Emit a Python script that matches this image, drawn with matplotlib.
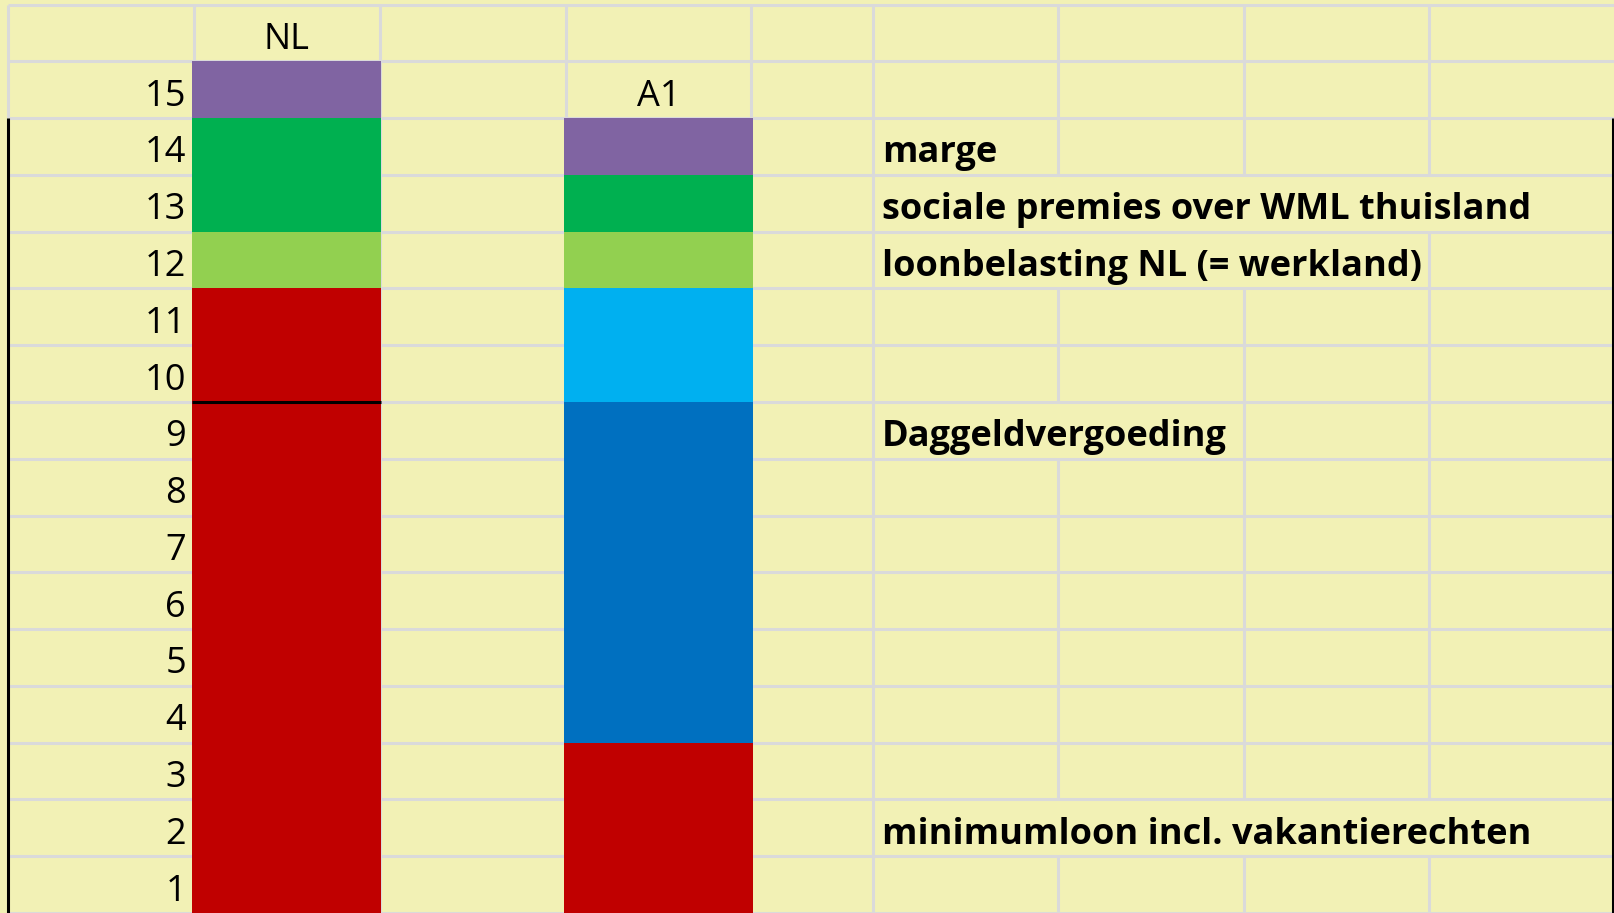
import numpy as np
import matplotlib.pyplot as plt

plt.rcParams['font.family'] = ['Open Sans', 'DejaVu Sans']

# stacked parts per column (units = rows of the sheet)
categories = ['NL', 'A1']
minimumloon = [9, 3]
rest_loon = [2, 0]        # red part above the black line (NL only)
daggeld = [0, 6]
daggeld_extra = [0, 2]
loonbelasting = [1, 1]
premies = [2, 1]
marge = [1, 1]

segments = [minimumloon, rest_loon, daggeld, daggeld_extra, loonbelasting, premies, marge]
seg_colors = ['#C00000', '#C00000', '#0070C0', '#00B0F0', '#92D050', '#00B050', '#8064A2']

row_numbers = list(range(1, 16))
labels = ['marge', 'sociale premies over WML thuisland',
          'loonbelasting NL (= werkland)', 'Daggeldvergoeding',
          'minimumloon incl. vakantierechten']
label_rows = [14, 13, 12, 9, 2]

bg = '#F2F1B5'
grid_c = '#DADADA'

# sheet layout (pixels)
col_edges = [8, 194, 380, 566, 751, 873, 1058, 1244, 1429, 1615]
bar_cols = [1, 3]
bar_w = 189
label_x = 882
base_off = 0.22

fig = plt.figure(figsize=(16.15, 9.13), dpi=100)
fig.patch.set_facecolor(bg)
ax = fig.add_axes([0, 0, 1, 1])
ax.set_xlim(0, 1615)
ax.set_ylim(0, 16.08)
ax.axis('off')

xs = np.array([(col_edges[c] + col_edges[c + 1]) / 2 for c in bar_cols])

# bars
bottom = np.zeros(len(categories))
for seg, c in zip(segments, seg_colors):
    vals = np.array(seg, dtype=float)
    ax.bar(xs, vals, width=bar_w, bottom=bottom, color=c, linewidth=0, zorder=3)
    bottom += vals
totals = bottom

# black divider inside the red part
for i in range(len(categories)):
    if rest_loon[i] > 0:
        ax.hlines(minimumloon[i], xs[i] - bar_w / 2, xs[i] + bar_w / 2,
                  color='black', lw=2.2, zorder=4)

# column headers above each bar
for x, name, tot in zip(xs, categories, totals):
    ax.text(x, tot + base_off, name, ha='center', va='baseline', fontsize=26, zorder=5)

# row numbers
for n in row_numbers:
    ax.text(186, n - 1 + base_off, str(n), ha='right', va='baseline', fontsize=26, zorder=5)

# labels
label_texts = []
for lab, r in zip(labels, label_rows):
    t = ax.text(label_x, r - 1 + base_off, lab, ha='left', va='baseline',
                fontsize=26, fontweight='bold', zorder=5)
    label_texts.append(t)

# find how far each label overflows to hide the cell borders it covers
fig.canvas.draw()
renderer = fig.canvas.get_renderer()
overflow = {}
for t, r in zip(label_texts, label_rows):
    bb = t.get_window_extent(renderer)
    overflow[r] = ax.transData.inverted().transform((bb.x1, 0))[0]

# horizontal grid
ax.hlines(np.arange(0, 17), col_edges[0], col_edges[-1], color=grid_c, lw=2.2, zorder=1)

# vertical grid, row by row
for e in col_edges[1:-1]:
    for r in range(16):
        row = r + 1
        if row in overflow and label_x < e < overflow[row]:
            continue
        ax.vlines(e, r, r + 1, color=grid_c, lw=2.2, zorder=1)

# left / right borders
ax.vlines(col_edges[0], 14, 16, color=grid_c, lw=2.2, zorder=1)
ax.vlines(col_edges[0], 0, 14, color='black', lw=2.2, zorder=2)
ax.vlines(col_edges[-1] - 1.5, 0, 14, color='black', lw=2.2, zorder=2)

fig.savefig('out.png', dpi=100, facecolor=bg)
